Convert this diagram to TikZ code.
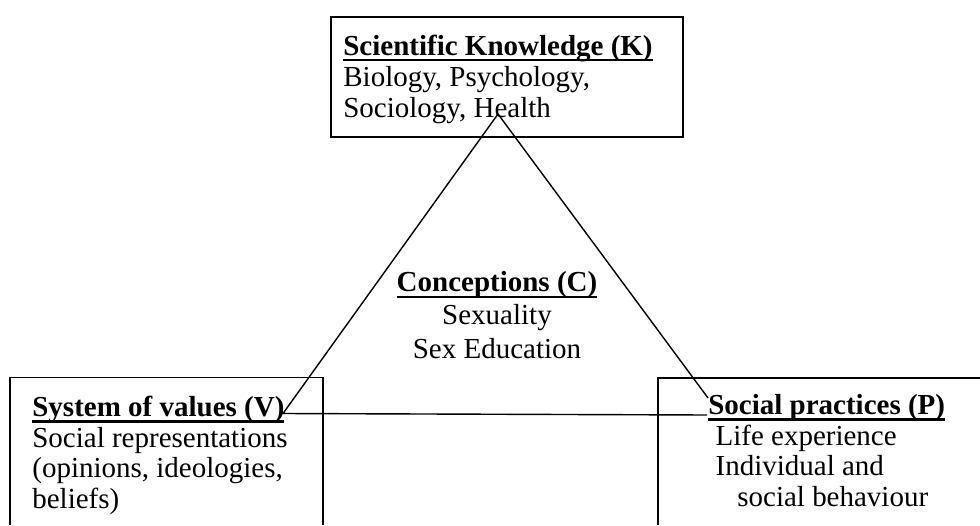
\documentclass[tikz,border=0pt]{standalone}
\usepackage{fontspec}
\setmainfont{Liberation Serif}
\newcommand{\hd}[1]{\setbox0\hbox{\bfseries #1}\rlap{\rule[-3.6pt]{\wd0}{1.5pt}}\box0}
\tikzset{
	frame/.style={line width=1.1pt},
	side/.style={line width=.8pt},
	txt/.style={anchor=base west,align=left,inner sep=0pt}
}
\begin{document}
\begin{tikzpicture}
		\useasboundingbox (0,0) rectangle (19.6,10.5);
		% boxes
		\draw[frame] (6.62,7.76) rectangle (13.66,10.16);
		\draw[frame] (0.2,0) -- (0.2,2.95) -- (6.46,2.95) -- (6.46,0);
		\draw[frame] (19.6,2.94) -- (13.16,2.94) -- (13.16,0);
		% texts (base = last line)
		\node[txt,font=\fontsize{16.5}{17.9}\selectfont] (know) at (6.86,8.14) {\hd{Scientific Knowledge (K)}\\Biology, Psychology,\\Sociology, Health};
		\node[txt,anchor=base,align=center,font=\fontsize{16.5}{18.8}\selectfont] (concept) at (9.94,3.34) {\hd{Conceptions (C)}\\Sexuality\\Sex Education};
		\node[txt,font=\fontsize{16.5}{17.3}\selectfont] (values) at (0.64,0.34) {\hd{System of values (V)}\\Social representations\\(opinions, ideologies,\\beliefs)};
		\node[txt,font=\fontsize{16.5}{17.3}\selectfont] (practice) at (14.16,0.38) {\hd{Social practices (P)}\\\hspace*{.25em}Life experience\\\hspace*{.25em}Individual and\\\hspace*{1em}social behaviour};
		% triangle
		\coordinate (kTop) at (9.96,8.22);
		\coordinate (vCorner) at (5.66,2.23);
		\coordinate (pCorner) at (14.14,2.20);
		\coordinate (pEnd) at (14.16,2.54);
		\draw[side] (kTop) -- (vCorner) -- (pCorner);
		\draw[side] (kTop) -- (pEnd);
	\end{tikzpicture}
\end{document}
